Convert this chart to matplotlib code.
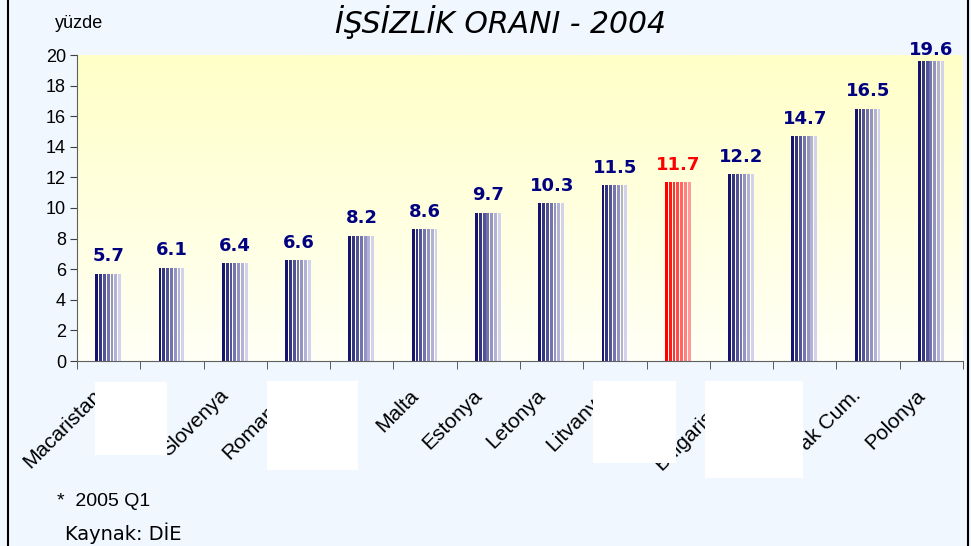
import numpy as np
import matplotlib
matplotlib.use("Agg")
import matplotlib.pyplot as plt
from matplotlib.patches import Rectangle
from matplotlib.colors import to_rgb
from matplotlib.transforms import ScaledTranslation

countries = ["Macaristan", "", "Slovenya", "Romanya", "", "Malta", "Estonya",
             "Letonya", "Litvanya", "", "Bulgaristan", "", "Slovak Cum.", "Polonya"]
values = [5.7, 6.1, 6.4, 6.6, 8.2, 8.6, 9.7, 10.3, 11.5, 11.7, 12.2, 14.7, 16.5, 19.6]
highlight = 9
yticks = [0, 2, 4, 6, 8, 10, 12, 14, 16, 18, 20]

W, H = 971, 546
fig = plt.figure(figsize=(W/100, H/100), dpi=100)
fig.patch.set_facecolor("#F0F7FF")
ax = fig.add_axes([77/W, 1-361/H, (963-77)/W, (361-55)/H])
ax.set_facecolor("none")
x = np.arange(len(values))
ax.set_xlim(-0.5, len(values)-0.5)
ax.set_ylim(0, 20)

# gradient background
grad = np.linspace(0, 1, 256).reshape(-1, 1)
top = np.array(to_rgb("#FFFFC8")); bot = np.array(to_rgb("#FFFFF6"))
img = bot[None, None, :] * (1-grad[..., None]) + top[None, None, :] * grad[..., None]
ax.imshow(img, extent=(-0.5, len(values)-0.5, 0, 20), origin="lower",
          aspect="auto", zorder=0)

nstripe = 7
bw = 0.42
sw = bw / nstripe
for i, v in enumerate(values):
    if i == highlight:
        c0, c1 = np.array(to_rgb("#FF0000")), np.array(to_rgb("#FF9A9A"))
    else:
        c0, c1 = np.array(to_rgb("#141470")), np.array(to_rgb("#D2D2EE"))
    left = x[i] - bw/2
    for k in range(nstripe):
        t = k/(nstripe-1)
        col = c0*(1-t) + c1*t
        ax.bar(left + k*sw, v, width=sw*0.75, align="edge", color=col,
               linewidth=0, zorder=2)
    ax.text(x[i], min(v + 0.55, 19.75), f"{v:.1f}", ha="center", va="bottom",
            fontsize=13, fontweight="bold", family="DejaVu Sans",
            color="#FF0000" if i == highlight else "#000080", zorder=3)

ax.set_yticks(yticks)
ax.set_yticklabels([str(t) for t in yticks], fontsize=13, family="Liberation Sans")
ax.tick_params(axis="y", direction="out", length=5, color="#404040", pad=3)
ax.set_xticks(x)
ax.set_xticklabels(countries, rotation=45, ha="right",
                   fontsize=15, family="Liberation Sans")
ax.tick_params(axis="x", length=0, pad=18)
off = ScaledTranslation(-3/100, 0, fig.dpi_scale_trans)
for lab in ax.get_xticklabels():
    lab.set_transform(lab.get_transform() + off)
ax.set_xticks(np.arange(-0.5, len(values)), minor=True)
ax.tick_params(axis="x", which="minor", direction="out", length=6, color="#404040")
for s in ["top", "right"]:
    ax.spines[s].set_visible(False)
ax.spines["left"].set_color("#606060")
ax.spines["bottom"].set_color("#606060")

fig.text(500/W, 1-22/H, "İŞSİZLİK ORANI - 2004", ha="center", va="center",
         fontsize=21.5, style="italic", family="DejaVu Sans")
fig.text(55/W, 1-24/H, "yüzde", ha="left", va="center", fontsize=13,
         family="Liberation Sans")
fig.text(57/W, 1-501/H, "*  2005 Q1", ha="left", va="center", fontsize=14,
         family="Liberation Sans")
fig.text(65/W, 1-533/H, "Kaynak: DİE", ha="left", va="center", fontsize=14,
         family="DejaVu Sans")

# white boxes
for (x0, y0, x1, y1) in [(95, 382, 167, 455), (267, 381, 358, 470),
                         (593, 381, 676, 463), (705, 381, 803, 478)]:
    fig.patches.append(Rectangle((x0/W, 1-y1/H), (x1-x0)/W, (y1-y0)/H,
                                 transform=fig.transFigure, facecolor="white",
                                 edgecolor="none", zorder=10))
# frame
fig.patches.append(Rectangle((8/W, -0.01), (968-8)/W, 1.02, transform=fig.transFigure,
                             facecolor="none", edgecolor="black", linewidth=1.5, zorder=11))

fig.savefig("out.png", dpi=100)
